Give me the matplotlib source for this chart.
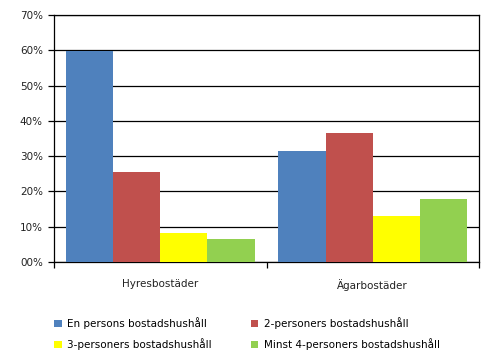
import matplotlib
matplotlib.use("Agg")
import matplotlib.pyplot as plt
import numpy as np
from matplotlib.patches import Patch

categories = ["Hyresbostäder", "Ägarbostäder"]
series_names = ["En persons bostadshushåll", "2-personers bostadshushåll",
                "3-personers bostadshushåll", "Minst 4-personers bostadshushåll"]
values = {
    "En persons bostadshushåll": [59.8, 31.5],
    "2-personers bostadshushåll": [25.5, 36.6],
    "3-personers bostadshushåll": [8.2, 13.0],
    "Minst 4-personers bostadshushåll": [6.5, 17.9],
}
colors = ["#4F81BD", "#C0504D", "#FFFF00", "#92D050"]
yticks = [0, 10, 20, 30, 40, 50, 60, 70]
ytick_labels = ["00%", "10%", "20%", "30%", "40%", "50%", "60%", "70%"]

fig = plt.figure(figsize=(4.95, 3.61), dpi=100)
ax = fig.add_axes([54/495, 1-262/361, (479-54)/495, (262-15)/361])

w = 1/4.5
centers = np.arange(len(categories)) + 0.5
for i, name in enumerate(series_names):
    x = centers - 2*w + w/2 + i*w
    ax.bar(x, values[name], width=w, color=colors[i], zorder=3, linewidth=0)

ax.set_xlim(0, len(categories))
ax.set_ylim(0, 70)
ax.set_yticks(yticks)
ax.set_yticklabels(ytick_labels, fontsize=7.5, color="#222222")
ax.yaxis.grid(True, color="black", linewidth=0.9, zorder=0)
ax.set_axisbelow(True)

ax.set_xticks(np.arange(len(categories)+1))
ax.set_xticklabels([])
ax.set_xticks(centers, minor=True)
ax.set_xticklabels(categories, minor=True, fontsize=7.5, color="#222222")
ax.tick_params(axis="x", which="minor", length=0, pad=12)
ax.tick_params(axis="x", which="major", length=4, width=0.9, direction="out")
ax.tick_params(axis="y", length=4, width=0.9, direction="out", pad=4)

for s in ["left", "bottom", "right", "top"]:
    ax.spines[s].set_color("black")
    ax.spines[s].set_linewidth(0.9)

handles = [Patch(facecolor=c, edgecolor="none") for c in colors]
order = [0, 2, 1, 3]
fig.legend([handles[i] for i in order], [series_names[i] for i in order],
           loc="upper left",
           bbox_to_anchor=(45/495, 1-308/361), ncol=2, frameon=False,
           fontsize=7.5, handlelength=0.7, handleheight=0.7, handletextpad=0.5,
           columnspacing=3.8, labelspacing=0.85)

fig.savefig("out.png", dpi=100)
